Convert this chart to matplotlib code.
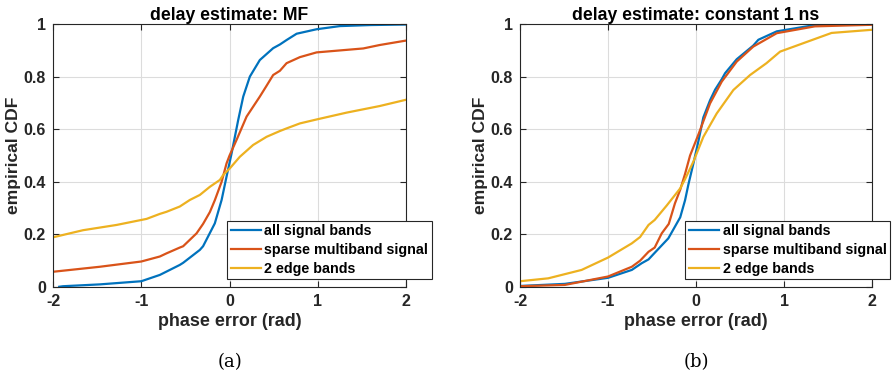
import numpy as np
import matplotlib
matplotlib.use("Agg")
import matplotlib.pyplot as plt

# ----- Data (empirical CDFs of phase error) -----
# (a) delay estimate: MF
mf_all_x = [-1.93, -1.887, -1.47, -1.0, -0.79, -0.564, -0.526, -0.337, -0.30, -0.167,
            -0.09, -0.034, 0.023, 0.098, 0.155, 0.23, 0.343, 0.494, 0.57, 0.646,
            0.76, 0.986, 1.25, 1.6, 2.0]
mf_all_y = [0.001, 0.003, 0.010, 0.022, 0.046, 0.084, 0.092, 0.141, 0.155, 0.242,
            0.331, 0.42, 0.508, 0.635, 0.724, 0.80, 0.863, 0.908, 0.922, 0.939,
            0.963, 0.980, 0.992, 0.996, 0.998]
mf_sparse_x = [-2.0, -1.47, -1.0, -0.79, -0.714, -0.564, -0.526, -0.374, -0.30, -0.223,
               -0.167, -0.09, -0.034, 0.0, 0.079, 0.193, 0.343, 0.419, 0.494, 0.57,
               0.646, 0.797, 0.986, 1.515, 1.7, 2.0]
mf_sparse_y = [0.058, 0.077, 0.097, 0.116, 0.128, 0.150, 0.155, 0.204, 0.24, 0.285,
               0.33, 0.40, 0.47, 0.50, 0.559, 0.648, 0.724, 0.765, 0.806, 0.822,
               0.851, 0.874, 0.892, 0.907, 0.920, 0.937]
mf_edge_x = [-2.0, -1.66, -1.28, -0.94, -0.79, -0.714, -0.564, -0.45, -0.337, -0.223,
             -0.11, -0.072, 0.003, 0.116, 0.267, 0.419, 0.57, 0.646, 0.797, 0.986,
             1.326, 1.70, 2.0]
mf_edge_y = [0.189, 0.216, 0.236, 0.259, 0.278, 0.286, 0.306, 0.331, 0.35, 0.381,
             0.407, 0.426, 0.451, 0.495, 0.54, 0.571, 0.593, 0.603, 0.622, 0.637,
             0.663, 0.688, 0.712]

# (b) delay estimate: constant 1 ns
c1_all_x = [-2.0, -1.49, -1.0, -0.73, -0.62, -0.54, -0.47, -0.315, -0.18, -0.125,
            -0.087, -0.03, 0.027, 0.083, 0.159, 0.216, 0.292, 0.33, 0.462, 0.65,
            0.708, 0.917, 1.35, 2.0]
c1_all_y = [0.004, 0.012, 0.035, 0.065, 0.09, 0.105, 0.13, 0.185, 0.265, 0.33,
            0.39, 0.47, 0.555, 0.645, 0.71, 0.75, 0.79, 0.813, 0.866, 0.918,
            0.94, 0.972, 0.996, 1.0]
c1_sparse_x = [-2.0, -1.49, -1.0, -0.73, -0.636, -0.54, -0.47, -0.39, -0.31, -0.24,
               -0.18, -0.125, -0.068, 0.027, 0.159, 0.292, 0.462, 0.65, 0.917, 1.35, 2.0]
c1_sparse_y = [0.003, 0.008, 0.04, 0.077, 0.10, 0.134, 0.15, 0.204, 0.24, 0.318,
               0.37, 0.43, 0.50, 0.58, 0.698, 0.781, 0.857, 0.914, 0.965, 0.991, 0.997]
c1_edge_x = [-2.0, -1.68, -1.30, -1.0, -0.73, -0.636, -0.54, -0.47, -0.333, -0.18,
             -0.125, -0.03, 0.083, 0.235, 0.424, 0.614, 0.80, 0.955, 1.276, 1.54, 2.0]
c1_edge_y = [0.022, 0.033, 0.065, 0.112, 0.166, 0.19, 0.236, 0.255, 0.31, 0.375,
             0.41, 0.477, 0.571, 0.66, 0.749, 0.806, 0.851, 0.895, 0.934, 0.966, 0.978]

labels = ["all signal bands", "sparse multiband signal", "2 edge bands"]
titles = ["delay estimate: MF", "delay estimate: constant 1 ns"]
captions = ["(a)", "(b)"]

# MATLAB default colour order
COLORS = ["#0072BD", "#D95319", "#EDB120"]
TXT = "#262626"

plt.rcParams["font.family"] = ["Liberation Sans", "DejaVu Sans"]
plt.rcParams["font.weight"] = "bold"
plt.rcParams["axes.unicode_minus"] = False

fig = plt.figure(figsize=(8.96, 3.79), dpi=100)
ax_pos = [[0.0592, 0.2427, 0.394, 0.694], [0.5804, 0.2427, 0.3929, 0.694]]
leg_x = [0.493, 0.470]   # legend left edge, axes fraction

panels = [
    [(mf_all_x, mf_all_y), (mf_sparse_x, mf_sparse_y), (mf_edge_x, mf_edge_y)],
    [(c1_all_x, c1_all_y), (c1_sparse_x, c1_sparse_y), (c1_edge_x, c1_edge_y)],
]

for i, curves in enumerate(panels):
    ax = fig.add_axes(ax_pos[i])
    for (x, y), c, lab in zip(curves, COLORS, labels):
        ax.plot(x, y, color=c, linewidth=1.6, label=lab)

    ax.set_xlim(-2, 2)
    ax.set_ylim(0, 1)
    ax.set_xticks([-2, -1, 0, 1, 2])
    ax.set_yticks([0, 0.2, 0.4, 0.6, 0.8, 1])
    ax.set_yticklabels(["0", "0.2", "0.4", "0.6", "0.8", "1"])
    ax.grid(True, color="#dcdcdc", linewidth=0.8)
    ax.set_axisbelow(True)
    ax.tick_params(direction="in", top=True, right=True, length=4,
                   labelsize=11.5, colors=TXT, pad=5)
    for lbl in ax.get_xticklabels() + ax.get_yticklabels():
        lbl.set_fontweight("bold")
    for s in ax.spines.values():
        s.set_color(TXT)
        s.set_linewidth(0.8)

    ax.set_title(titles[i], fontsize=12.7, fontweight="bold", color="black", pad=3)
    ax.set_xlabel("phase error (rad)", fontsize=12.9, fontweight="bold", color=TXT, labelpad=3)
    ax.set_ylabel("empirical CDF", fontsize=12.6, fontweight="bold", color=TXT, labelpad=2)

    leg = ax.legend(loc="lower left", bbox_to_anchor=(leg_x[i], 0.03),
                    prop={"weight": "bold", "size": 10.3},
                    fancybox=False, framealpha=1, edgecolor=TXT,
                    handlelength=2.1, borderpad=0.25, labelspacing=0.32,
                    handletextpad=0.25, borderaxespad=0, handleheight=0.7)
    leg.get_frame().set_linewidth(0.8)

    fig.text(ax_pos[i][0] + ax_pos[i][2] / 2, 0.045, captions[i],
             fontsize=13, family="DejaVu Serif", fontweight="normal",
             ha="center", va="center")

fig.savefig("out.png", dpi=100)
